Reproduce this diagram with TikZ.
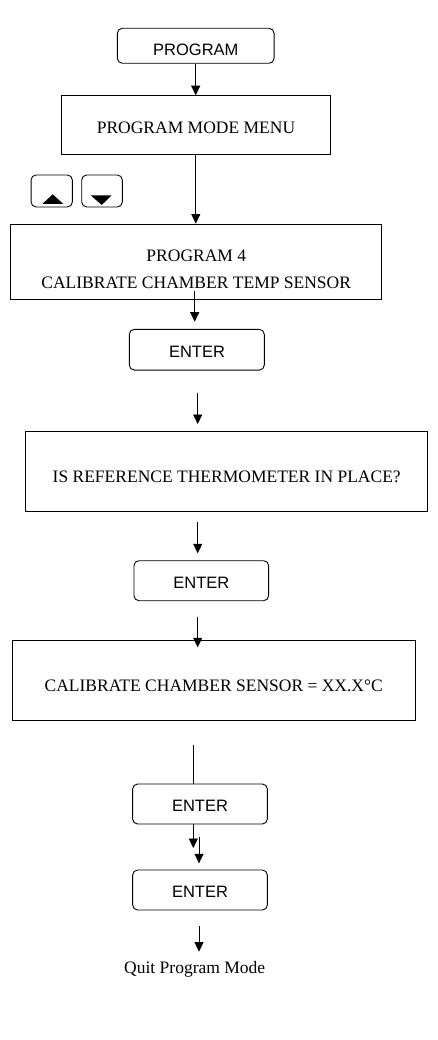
\documentclass[tikz,border=0pt]{standalone}
\usepackage{fontspec}
\setmainfont{Liberation Serif}
\newfontfamily\sansf{Liberation Sans}
\usetikzlibrary{arrows.meta}
\begin{document}
\begin{tikzpicture}[x=1pt,y=-1pt,
  boxsq/.style={draw,line width=0.9pt,inner sep=0pt,rectangle},
  boxrd/.style={draw,line width=0.9pt,inner sep=0pt,rectangle,rounded corners=5pt},
  serift/.style={anchor=base,inner sep=0pt,font=\fontsize{17.5}{20}\selectfont},
  sanst/.style={anchor=base,inner sep=0pt,font=\sansf\fontsize{16.5}{19}\selectfont},
  conn/.style={line width=0.8pt,-{Triangle[length=9.5pt,width=9pt]}},
  plain/.style={line width=0.8pt}]
\useasboundingbox (0,0) rectangle (438,1040);
% boxes
\node[boxrd,minimum width=156.7pt,minimum height=35pt] (prog) at (195.7,45.8) {};
\node[boxsq,minimum width=268.3pt,minimum height=58.6pt] (menu) at (195.8,125) {};
\node[boxrd,minimum width=41.3pt,minimum height=32pt] (up) at (51.7,191) {};
\node[boxrd,minimum width=40.6pt,minimum height=32pt] (down) at (102,191) {};
\node[boxsq,minimum width=371pt,minimum height=75pt] (p4) at (195.8,261.5) {};
\node[boxrd,minimum width=135pt,minimum height=40.7pt] (enter1) at (196.8,349.7) {};
\node[boxsq,minimum width=402pt,minimum height=80.3pt] (ref) at (226.7,471.2) {};
\node[boxrd,minimum width=134.7pt,minimum height=40pt] (enter2) at (201.3,580.7) {};
\node[boxsq,minimum width=402.3pt,minimum height=79.3pt] (cal) at (213.8,680.3) {};
\node[boxrd,minimum width=134.7pt,minimum height=40pt] (enter3) at (200,804) {};
\node[boxrd,minimum width=134.7pt,minimum height=40pt] (enter4) at (200,890) {};
% button glyphs
\fill (42.3,204) -- (52.7,194.3) -- (63.3,204) -- cycle;
\fill (90.7,195.3) -- (111.7,195.3) -- (101.7,205) -- cycle;
% texts
\node[sanst] (tprog) at (195.8,55.7) {PROGRAM};
\node[serift] (tmenu) at (196,134) {PROGRAM MODE MENU};
\node[serift] (tp4a) at (196.3,261.7) {PROGRAM 4};
\node[serift] (tp4b) at (196.2,288.3) {CALIBRATE CHAMBER TEMP SENSOR};
\node[sanst] (te1) at (197,357.3) {ENTER};
\node[serift] (tref) at (226.7,482.3) {IS REFERENCE THERMOMETER IN PLACE?};
\node[sanst] (te2) at (201.3,588.3) {ENTER};
\node[serift] (tcal) at (213.7,691) {CALIBRATE CHAMBER SENSOR = XX.X°C};
\node[sanst] (te3) at (200,811.7) {ENTER};
\node[sanst] (te4) at (200,897.3) {ENTER};
\node[serift] (tquit) at (194.7,973.3) {Quit Program Mode};
% connector coordinates
\coordinate (a3s) at (194.7,290.7);
\coordinate (a3e) at (194.7,321.7);
\coordinate (a4s) at (197.7,392.7);
\coordinate (a4e) at (197.7,424);
\coordinate (a5s) at (197.7,522);
\coordinate (a5e) at (197.7,553.3);
\coordinate (a6s) at (197.7,616.7);
\coordinate (a6e) at (197.7,647.3);
\coordinate (a7s) at (193.3,745);
\coordinate (a8e) at (193.3,848);
\coordinate (a9s) at (199,836.7);
\coordinate (a9e) at (199,863.3);
\coordinate (a10s) at (199,926);
\coordinate (a10e) at (199,951.7);
% connectors
\draw[conn] (prog.south) -- (prog.south |- menu.north);
\draw[conn] (menu.south) -- (menu.south |- p4.north);
\draw[conn] (a3s) -- (a3e);
\draw[conn] (a4s) -- (a4e);
\draw[conn] (a5s) -- (a5e);
\draw[conn] (a6s) -- (a6e);
\draw[plain] (a7s) -- (a7s |- enter3.north);
\draw[conn] (a8e |- enter3.south) -- (a8e);
\draw[conn] (a9s) -- (a9e);
\draw[conn] (a10s) -- (a10e);
\end{tikzpicture}
\end{document}
